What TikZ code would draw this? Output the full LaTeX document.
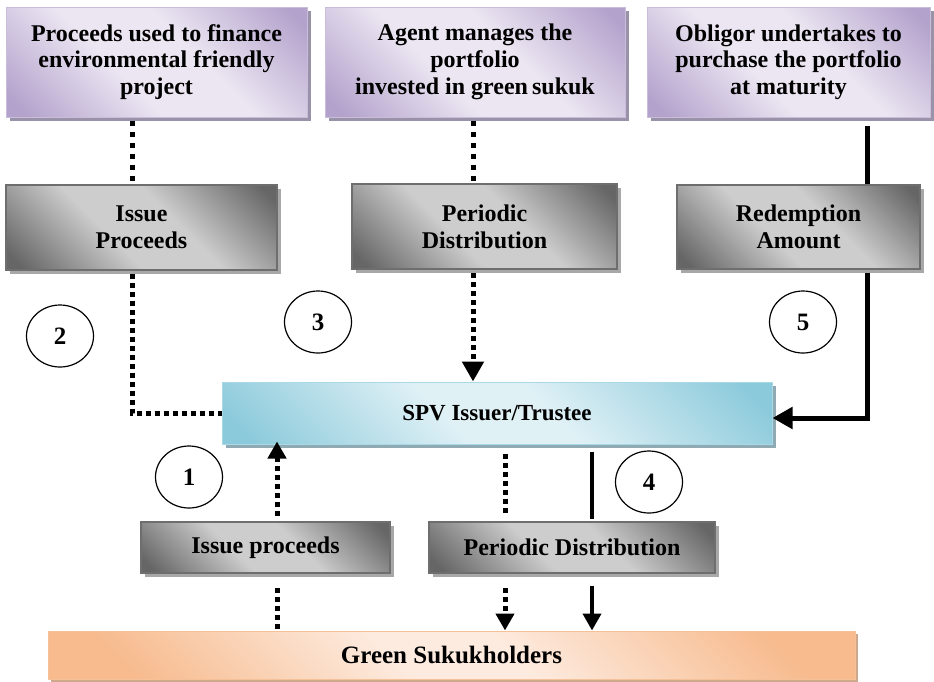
\documentclass[tikz,border=0pt]{standalone}
\usepackage{fontspec}
\setmainfont{Liberation Serif}
\usetikzlibrary{shapes.geometric,shadows,arrows.meta}
\definecolor{pdark}{HTML}{B3A2CC}
\definecolor{plight}{HTML}{ECE6F2}
\definecolor{pborder}{HTML}{C9BDDA}
\definecolor{pshadow}{HTML}{9A92A8}
\definecolor{gdark}{HTML}{666666}
\definecolor{glight}{HTML}{CDCDCD}
\definecolor{gborder}{HTML}{6E6E6E}
\definecolor{gshadow}{HTML}{A8A8A8}
\definecolor{bdark}{HTML}{8BCADB}
\definecolor{blight}{HTML}{E0F1F6}
\definecolor{bborder}{HTML}{A9D9E6}
\definecolor{bshadow}{HTML}{8FAAB3}
\definecolor{odark}{HTML}{F7BB8E}
\definecolor{olight}{HTML}{FDEBDF}
\definecolor{oborder}{HTML}{F6C099}
\definecolor{oshadow}{HTML}{CFA88C}
\pgfdeclarehorizontalshading{purpsh}{100bp}{color(0bp)=(pdark); color(18bp)=(pdark); color(42bp)=(plight); color(58bp)=(plight); color(82bp)=(pdark); color(100bp)=(pdark)}
\pgfdeclarehorizontalshading{graysh}{100bp}{color(0bp)=(gdark); color(18bp)=(gdark); color(42bp)=(glight); color(58bp)=(glight); color(82bp)=(gdark); color(100bp)=(gdark)}
\pgfdeclarehorizontalshading{bluesh}{100bp}{color(0bp)=(bdark); color(18bp)=(bdark); color(44bp)=(blight); color(56bp)=(blight); color(82bp)=(bdark); color(100bp)=(bdark)}
\pgfdeclarehorizontalshading{orgsh}{100bp}{color(0bp)=(odark); color(22bp)=(odark); color(45bp)=(olight); color(55bp)=(olight); color(78bp)=(odark); color(100bp)=(odark)}
\begin{document}
\begin{tikzpicture}[x=1pt,y=-1pt,
  base/.style={rectangle, inner sep=0pt, align=center, font=\fontsize{24}{26.7}\selectfont\bfseries},
  topbox/.style={base, shading=purpsh, shading angle=45, draw=pborder, line width=1pt,
    drop shadow={shadow xshift=4pt, shadow yshift=-4pt, fill=pshadow, opacity=1}},
  graybox/.style={base, shading=graysh, shading angle=45, draw=gborder, line width=2pt,
    drop shadow={shadow xshift=4pt, shadow yshift=-4pt, fill=gshadow, opacity=1}},
  spvbox/.style={base, shading=bluesh, shading angle=45, draw=bborder, line width=1pt,
    drop shadow={shadow xshift=4pt, shadow yshift=-4pt, fill=bshadow, opacity=1}},
  greenbox/.style={base, shading=orgsh, shading angle=45, draw=oborder, line width=1pt,
    drop shadow={shadow xshift=3pt, shadow yshift=-3pt, fill=oshadow, opacity=1}},
  numc/.style={ellipse, draw, line width=1.2pt, minimum width=67pt, minimum height=62pt,
    inner sep=0pt, font=\fontsize{25}{26}\selectfont\bfseries},
  dotline/.style={line width=5pt, dash pattern=on 5pt off 4pt},
  dotthin/.style={line width=5pt, dash pattern=on 5pt off 4pt},
  solidline/.style={line width=5pt},
  solidthin/.style={line width=4pt},
  bigtip/.style={-{Triangle[width=21pt,length=20pt]}},
  smalltip/.style={-{Triangle[width=18pt,length=17pt]}}
]
\useasboundingbox (0,0) rectangle (934,681);

% top row
\node[topbox, minimum width=301pt, minimum height=110pt] (box1) at (156.5,62)
  {Proceeds used to finance\\environmental friendly\\project};
\node[topbox, minimum width=300pt, minimum height=110pt] (box2) at (475,62)
  {Agent manages the\\portfolio\\invested in green\,sukuk};
\node[topbox, minimum width=283pt, minimum height=110pt] (box3) at (788.5,62)
  {Obligor undertakes to\\purchase the portfolio\\at maturity};

% second row
\node[graybox, minimum width=271pt, minimum height=85pt] (gray1) at (141.5,227)
  {Issue\\Proceeds};
\node[graybox, minimum width=265pt, minimum height=85pt] (gray2) at (484.5,226.5)
  {Periodic\\Distribution};
\node[graybox, minimum width=243pt, minimum height=84pt] (gray3) at (798.5,226.5)
  {Redemption\\Amount};

% SPV
\node[spvbox, minimum width=550pt, minimum height=62pt, font=\fontsize{23}{26}\selectfont\bfseries] (spv) at (497,413)
  {SPV Issuer/Trustee};

% bottom row
\node[graybox, minimum width=249pt, minimum height=51pt] (small1) at (265.5,547.5)
  {Issue proceeds};
\node[graybox, minimum width=286pt, minimum height=51pt] (small2) at (572,547.5)
  {Periodic Distribution};

\node[greenbox, minimum width=807pt, minimum height=48pt, font=\fontsize{25}{26}\selectfont\bfseries] (green) at (451.5,655)
  {Green Sukukholders};

% numbered circles
\node[numc] (n1) at (189,477) {1};
\node[numc] (n2) at (60,336) {2};
\node[numc] (n3) at (318,322) {3};
\node[numc] (n4) at (649,482) {4};
\node[numc] (n5) at (803,322) {5};

% x positions of connectors
\coordinate (xL) at (132,0);
\coordinate (xM) at (473,0);
\coordinate (xR) at (867,0);
\coordinate (xA) at (277,0);
\coordinate (xB) at (505,0);
\coordinate (xC) at (592,0);

% connectors, upper part
\draw[dotline, dash pattern=on 5pt off 6pt, shorten <=3pt] (box1.south -| xL) -- (gray1.north -| xL);
\draw[dotline, shorten <=3pt] (gray1.south -| xL) |- (spv.west);
\draw[dotline, dash pattern=on 5pt off 6pt, shorten <=3pt] (box2.south -| xM) -- (gray2.north -| xM);
\draw[dotline, bigtip, shorten <=3pt] (gray2.south -| xM) -- (spv.north -| xM);
\draw[solidline, shorten <=8pt] (box3.south -| xR) -- (gray3.north -| xR);
\draw[solidline, bigtip, shorten <=3pt] (gray3.south -| xR) |- ([yshift=-5pt]spv.east);

% connectors, lower part
\draw[dotthin, smalltip, shorten <=5pt, shorten >=-3pt] (small1.north -| xA) -- (spv.south -| xA);
\draw[dotthin, shorten <=14pt] (small1.south -| xA) -- (green.north -| xA);
\draw[dotthin, shorten <=9pt, shorten >=7pt] (spv.south -| xB) -- (small2.north -| xB);
\draw[dotthin, smalltip, shorten <=14pt] (small2.south -| xB) -- (green.north -| xB);
\draw[solidthin, shorten <=7pt, shorten >=2pt] (spv.south -| xC) -- (small2.north -| xC);
\draw[solidthin, smalltip, shorten <=12pt] (small2.south -| xC) -- (green.north -| xC);
\end{tikzpicture}
\end{document}
